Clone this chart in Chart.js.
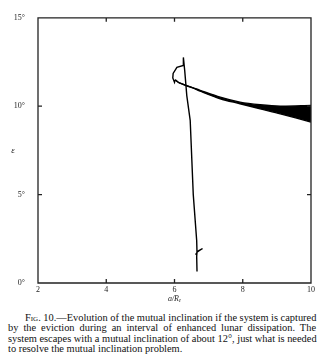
<!DOCTYPE html>
<html>
<head>
<meta charset="utf-8">
<script src="https://cdn.jsdelivr.net/npm/chart.js@4/dist/chart.umd.min.js"></script>
<style>
  html, body { margin: 0; padding: 0; background: #fff; }
  #wrap { position: relative; width: 325px; height: 360px; overflow: hidden; }
  #box { position: absolute; left: 0; top: 0; width: 325px; height: 305px; }
  #caption { position: absolute; left: 8px; top: 313px; width: 308px;
    font-family: "Liberation Serif", "DejaVu Serif", serif; font-size: 10.4px;
    line-height: 10.4px; color: #111; }
  #caption .ln { white-space: nowrap; text-align: justify; text-align-last: justify; }
  #caption .ln.first { padding-left: 17px; }
  #caption .ln.last { text-align-last: left; }
  .sc { font-variant: small-caps; }
</style>
</head>
<body>
<div id="wrap">
  <div id="box"><canvas id="c"></canvas></div>
  <div id="caption">
    <div class="ln first"><span class="sc">Fig.</span> 10.—Evolution of the mutual inclination if the system is captured</div>
    <div class="ln">by the eviction during an interval of enhanced lunar dissipation. The</div>
    <div class="ln">system escapes with a mutual inclination of about 12°, just what is needed</div>
    <div class="ln last">to resolve the mutual inclination problem.</div>
  </div>
</div>
<script>
// Semi-major axis (a/R) and inclination (deg) along the capture track:
// climb through the eviction, then the small hook at the top.
const trackA = [6.66, 6.65, 6.66, 6.82, 6.68, 6.62, 6.66, 6.65, 6.55, 6.46, 6.36, 6.30, 6.26, 6.26, 6.07, 5.96, 5.95, 6.00, 6.02];
const trackI = [0.65, 1.50, 1.75, 1.95, 1.80, 1.60, 1.70, 2.40, 5.00, 9.20, 10.60, 12.00, 12.76, 12.30, 12.20, 11.85, 11.60, 11.35, 11.49];

// Escape branch: envelope of the oscillating inclination.
const bandA = [6.02, 6.16, 6.55, 6.75, 7.34, 7.92, 8.51, 9.10, 10.0];
const bandUpper = [11.49, 11.30, 11.04, 10.90, 10.51, 10.23, 10.08, 10.00, 10.04];
const bandLower = [11.49, 11.30, 11.02, 10.85, 10.42, 10.14, 9.85, 9.57, 9.10];

const xTicks = [2, 4, 6, 8, 10];
const yTicks = [0, 5, 10, 15];

const pts = (xs, ys) => xs.map((x, i) => ({ x: x, y: ys[i] }));

const serif = '"Liberation Serif", "DejaVu Serif", serif';

// Frame with inward tick marks on all four sides, plus the y-axis symbol.
const framePlugin = {
  id: 'frame',
  afterDatasetsDraw(chart) {
    const ctx = chart.ctx;
    const a = chart.chartArea;
    const sx = chart.scales.x, sy = chart.scales.y;
    ctx.save();
    ctx.strokeStyle = '#222';
    ctx.lineWidth = 1.3;
    ctx.beginPath();
    ctx.rect(a.left, a.top, a.right - a.left, a.bottom - a.top);
    const t = 4;
    xTicks.slice(1, -1).forEach(v => {
      const px = sx.getPixelForValue(v);
      ctx.moveTo(px, a.bottom); ctx.lineTo(px, a.bottom - t);
      ctx.moveTo(px, a.top); ctx.lineTo(px, a.top + t);
    });
    yTicks.slice(1, -1).forEach(v => {
      const py = sy.getPixelForValue(v);
      ctx.moveTo(a.left, py); ctx.lineTo(a.left + t, py);
      ctx.moveTo(a.right, py); ctx.lineTo(a.right - t, py);
    });
    ctx.stroke();
    ctx.fillStyle = '#222';
    ctx.font = 'italic 9px ' + serif;
    ctx.textAlign = 'center';
    ctx.textBaseline = 'middle';
    ctx.fillText('ε', 13, sy.getPixelForValue(7.5));
    ctx.restore();
  }
};

new Chart(document.getElementById('c'), {
  type: 'scatter',
  data: {
    datasets: [
      { data: pts(trackA, trackI), showLine: true, borderColor: '#000', borderWidth: 1.4,
        pointRadius: 0, tension: 0, fill: false },
      { data: pts(bandA, bandUpper), showLine: true, borderColor: '#000', borderWidth: 1.4,
        pointRadius: 0, tension: 0.3, fill: false },
      { data: pts(bandA, bandLower), showLine: true, borderColor: '#000', borderWidth: 1.4,
        pointRadius: 0, tension: 0.3, fill: '-1', backgroundColor: '#000' }
    ]
  },
  options: {
    responsive: true,
    maintainAspectRatio: false,
    animation: false,
    layout: { padding: { left: 0, top: 14, right: 14, bottom: 0 } },
    plugins: { legend: { display: false }, tooltip: { enabled: false } },
    scales: {
      x: {
        type: 'linear', min: 2, max: 10,
        afterBuildTicks: s => { s.ticks = xTicks.map(v => ({ value: v })); },
        afterFit: s => { s.height = 22; },
        grid: { display: false, drawTicks: false }, border: { display: false },
        ticks: { padding: 2, color: '#222', font: { family: serif, size: 8 } },
        title: { display: true, text: 'a/Rₑ', color: '#222', padding: { top: 0, bottom: 1 },
          font: { family: serif, size: 8, style: 'italic' } }
      },
      y: {
        type: 'linear', min: 0, max: 15,
        afterBuildTicks: s => { s.ticks = yTicks.map(v => ({ value: v })); },
        afterFit: s => { s.width = 38; },
        grid: { display: false, drawTicks: false }, border: { display: false },
        ticks: { padding: 13, color: '#222', font: { family: serif, size: 8 },
          callback: v => v + '°' }
      }
    }
  },
  plugins: [framePlugin]
});
</script>
</body>
</html>
